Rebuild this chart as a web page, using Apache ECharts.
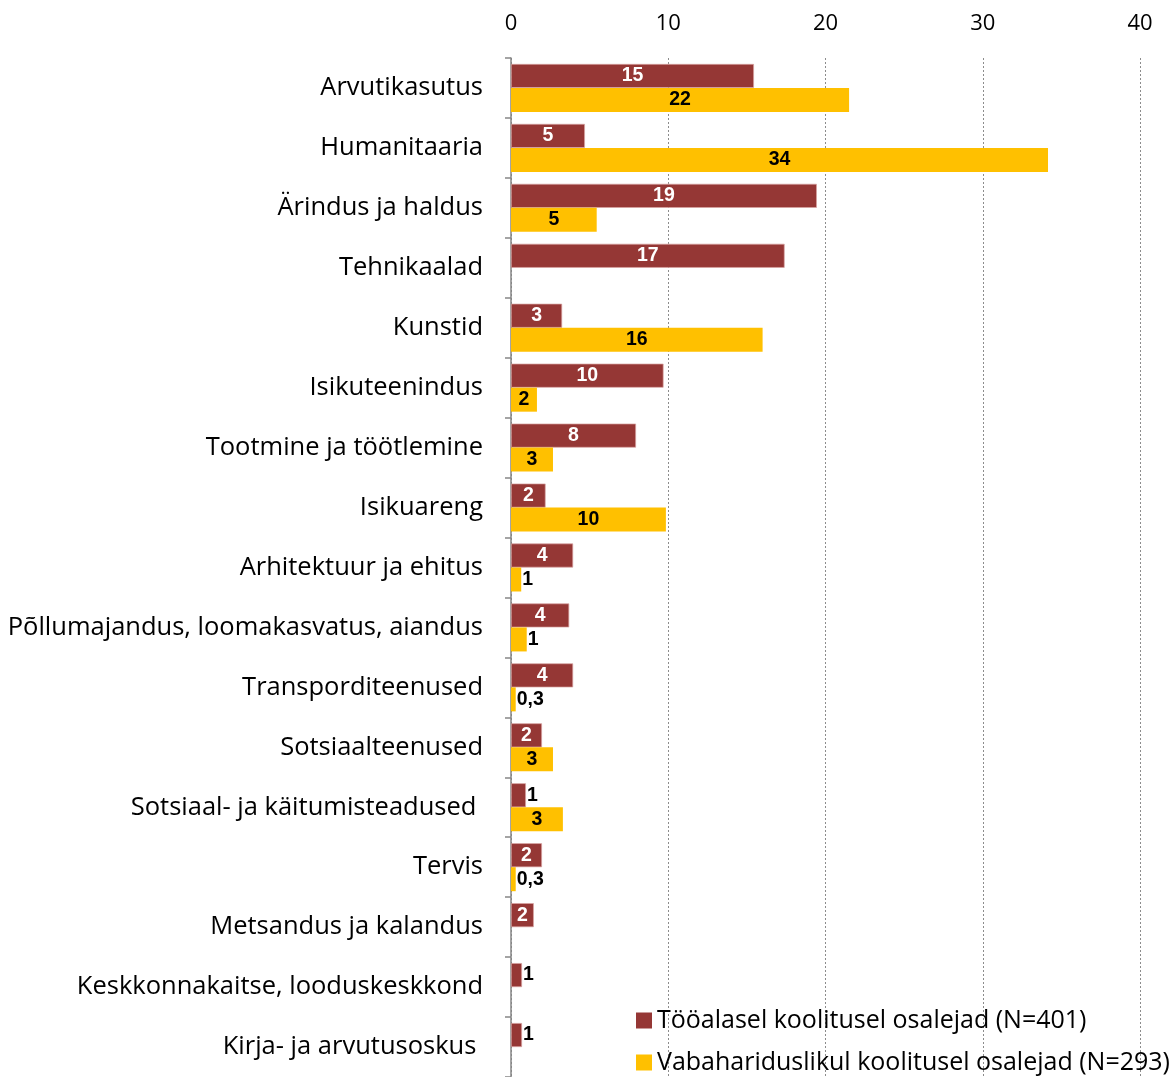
<!DOCTYPE html>
<html><head><meta charset="utf-8">
<script src="https://cdn.jsdelivr.net/npm/echarts@6/dist/echarts.min.js"></script>
<style>html,body{margin:0;padding:0;background:#fff}#c{width:1170px;height:1077px}</style>
</head><body><div id="c"></div>
<script>
const categories = ["Arvutikasutus","Humanitaaria","Ärindus ja haldus","Tehnikaalad","Kunstid","Isikuteenindus","Tootmine ja töötlemine","Isikuareng","Arhitektuur ja ehitus","Põllumajandus, loomakasvatus, aiandus","Transporditeenused","Sotsiaalteenused","Sotsiaal- ja käitumisteadused ","Tervis","Metsandus ja kalandus","Keskkonnakaitse, looduskeskkond","Kirja- ja arvutusoskus "];
const workValues = [15.45,4.7,19.45,17.4,3.25,9.7,7.95,2.2,3.95,3.7,3.95,1.97,0.95,1.97,1.45,0.7,0.7];
const workLabels = ["15","5","19","17","3","10","8","2","4","4","4","2","1","2","2","1","1"];
const freeValues = [21.5,34.15,5.45,null,16.0,1.65,2.67,9.85,0.65,1.0,0.3,2.67,3.3,0.3,null,null,null];
const freeLabels = ["22","34","5","","16","2","3","10","1","1","0,3","3","3","0,3","","",""];
const seriesNames = ['Tööalasel koolitusel osalejad (N=401)','Vabahariduslikul koolitusel osalejad (N=293)'];
const xTicks = [0,10,20,30,40];

function mk(values, labels, insideColor){
  return values.map((v,i)=>{
    if(v===null) return {value:null};
    const inside = v >= 1.4;
    return {value:v, label:{show:true, position: inside?'inside':'right', distance:1,
      color: inside?insideColor:'#000', formatter: labels[i]}};
  });
}
const chart = echarts.init(document.getElementById('c'));
const lblBase = {fontFamily:'Liberation Sans, Arial', fontWeight:'bold', fontSize:19.5};
const legBase = {orient:'horizontal', left:631, itemWidth:16, itemHeight:16, itemGap:10, icon:'rect',
  itemStyle:{borderWidth:0}, textStyle:{fontFamily:'Open Sans', fontSize:25, color:'#000', padding:[2,0,0,0]}};
chart.setOption({
  animation:false,
  grid:{left:511, right:30, top:58, height:1023, containLabel:false},
  legend:[Object.assign({top:1003, data:[seriesNames[0]]}, legBase),
          Object.assign({top:1045, data:[seriesNames[1]]}, legBase)],
  xAxis:{type:'value', position:'top', min:xTicks[0], max:xTicks[xTicks.length-1], interval:10,
    axisLine:{show:false}, axisTick:{show:false},
    axisLabel:{fontFamily:'Open Sans', fontSize:22, color:'#000', margin:23},
    splitLine:{show:true, lineStyle:{type:[2,2], color:'#8c8c8c', width:1}}},
  yAxis:{type:'category', inverse:true, data:categories,
    axisLine:{lineStyle:{color:'#868686', width:1.5}},
    axisTick:{show:true, length:6, lineStyle:{color:'#868686', width:1.5}},
    axisLabel:{fontFamily:'Open Sans', fontSize:25.5, color:'#000', margin:28, padding:[8,0,0,0]}},
  series:[
    {name:seriesNames[0], type:'bar', barWidth:24, barGap:'0%',
     itemStyle:{color:'#953735', borderColor:'#d9a3a2', borderWidth:0.7}, label:Object.assign({}, lblBase), data:mk(workValues, workLabels, '#fff')},
    {name:seriesNames[1], type:'bar', barWidth:24, barGap:'0%',
     itemStyle:{color:'#FFC000'}, label:Object.assign({}, lblBase), data:mk(freeValues, freeLabels, '#000')}
  ]
});
</script></body></html>
